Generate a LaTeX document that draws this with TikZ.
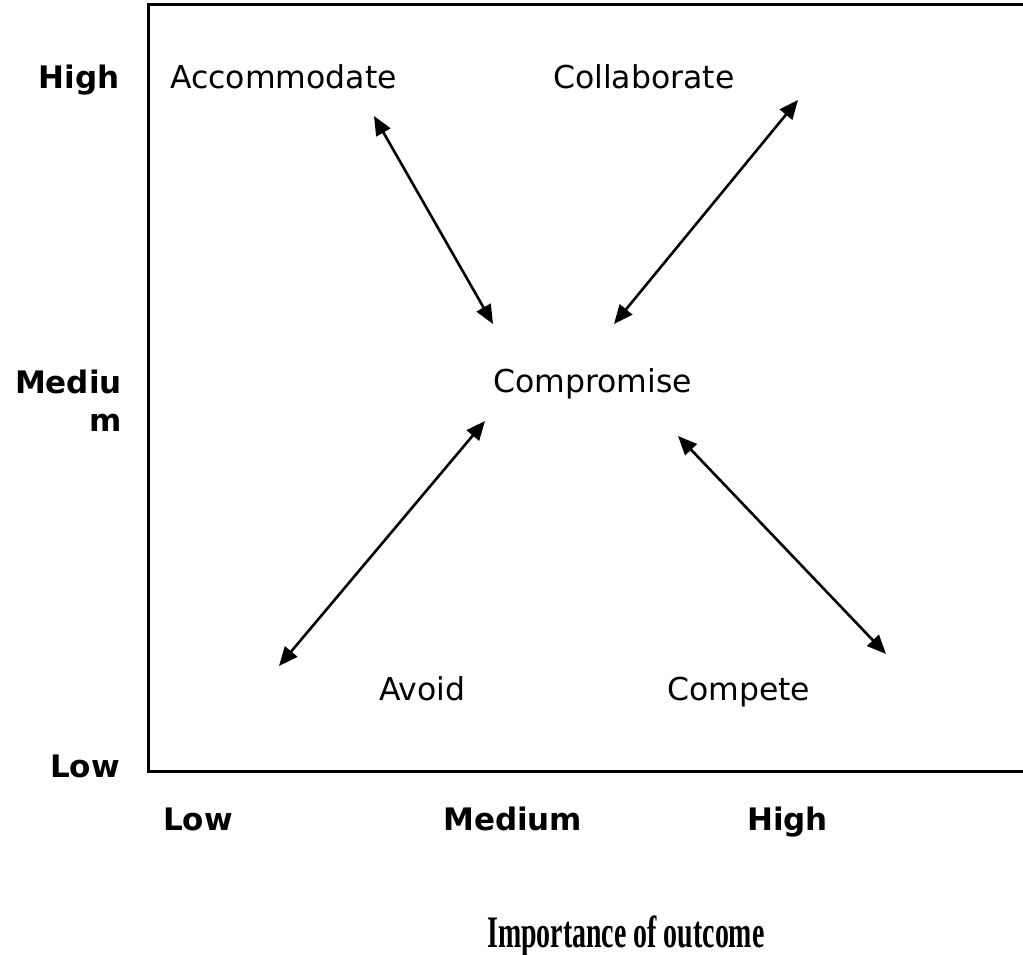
\documentclass[tikz,border=0pt]{standalone}
\usepackage{fontspec}
\setmainfont{DejaVu Sans}
\newfontfamily\outfont[FakeStretch=0.62]{Liberation Serif}
\usetikzlibrary{arrows.meta}
\begin{document}
\begin{tikzpicture}[x=1pt,y=-1pt,
  lbl/.style={inner sep=0pt,font=\fontsize{31.5}{38}\selectfont},
  axl/.style={inner sep=0pt,font=\fontsize{31}{38}\selectfont\bfseries},
  link/.style={line width=2.6pt,{Triangle[length=19pt,width=16pt]}-{Triangle[length=19pt,width=16pt]}}]
\useasboundingbox (0,0) rectangle (1023,955);
\begin{scope}
\clip (0,0) rectangle (1023,955);
\draw[line width=3pt] (1040,5) -- (148,5) -- (148,771) -- (1040,771);
\end{scope}
% quadrant labels
\node[lbl,anchor=base west] (acc) at (170,89) {Accommodate};
\node[lbl,anchor=base west] (col) at (553,89) {Collaborate};
\node[lbl,anchor=base west] (cmp) at (493,392) {Compromise};
\node[lbl,anchor=base west] (avo) at (379,700) {Avoid};
\node[lbl,anchor=base west] (cpt) at (667,700) {Compete};
% vertical axis
\node[axl,anchor=base east] (yh) at (120,89) {High};
\node[axl,anchor=base east,align=right] (ym) at (122,431) {Mediu\\m};
\node[axl,anchor=base east] (yl) at (120,777) {Low};
% horizontal axis
\node[axl,anchor=base west] (xl) at (163,830) {Low};
\node[axl,anchor=base west] (xm) at (443,830) {Medium};
\node[axl,anchor=base west] (xh) at (747,830) {High};
\node[inner sep=0pt,anchor=base west,font=\outfont\bfseries\fontsize{45}{50}\selectfont] (title) at (487,947) {Importance of outcome};
% arrow end points
\coordinate (a1) at (374,116);
\coordinate (a2) at (493,324);
\coordinate (b1) at (798,100);
\coordinate (b2) at (614,324);
\coordinate (c1) at (485,421);
\coordinate (c2) at (279,666);
\coordinate (d1) at (678,436);
\coordinate (d2) at (886,654);
\draw[link] (a1) -- (a2);
\draw[link] (b1) -- (b2);
\draw[link] (c1) -- (c2);
\draw[link] (d1) -- (d2);
\end{tikzpicture}
\end{document}
